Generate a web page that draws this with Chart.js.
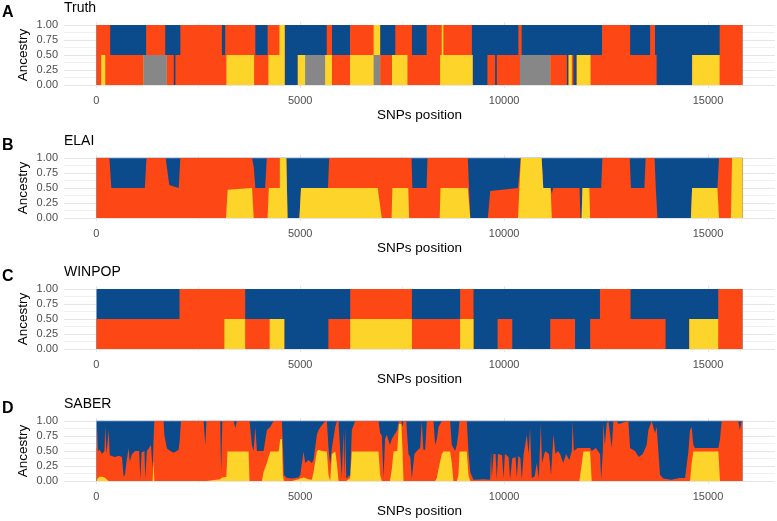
<!DOCTYPE html>
<html>
<head>
<meta charset="utf-8">
<title>Local ancestry along SNPs</title>
<script src="https://cdn.jsdelivr.net/npm/chart.js@4.4.1/dist/chart.umd.min.js"></script>
<style>
  html, body { margin: 0; padding: 0; background: #fff; }
  body { width: 777px; height: 521px; position: relative; overflow: hidden; }
  canvas { position: absolute; left: 0; }
</style>
</head>
<body>
<canvas id="panelA" width="777" height="125" style="top:0px"></canvas>
<canvas id="panelB" width="777" height="125" style="top:133px"></canvas>
<canvas id="panelC" width="777" height="125" style="top:264px"></canvas>
<canvas id="panelD" width="777" height="125" style="top:396px"></canvas>
<script>
// ancestry colours, stacked bottom -> top: grey, yellow, orange, blue
const GREY = '#878787';
const YELLOW = '#fdd42a';
const ORANGE = '#fd4714';
const BLUE = '#0b4a8b';

const xTicks = [0, 2500, 5000, 7500, 10000, 12500, 15000];
const yTicks = [0, 0.125, 0.25, 0.375, 0.5, 0.625, 0.75, 0.875, 1];

// A - Truth (step changes, value holds until next position)
const truthX = [0, 120, 220, 340, 1160, 1220, 1690, 1730, 1900, 1940,
  2060, 3080, 3160, 3190, 3870, 3900, 4200, 4220, 4490, 4620,
  4940, 5120, 5610, 5650, 5780, 6220, 6800, 6960, 7250, 7330,
  7630, 7740, 8100, 8430, 8470, 8510, 9210, 9230, 9590, 9780,
  9820, 10350, 10390, 10430, 11130, 11540, 11580, 11660, 11700, 11780,
  12120, 12400, 13090, 13580, 13700, 13740, 14610, 15285, 15850];
const truthGrey = [0, 0, 0, 0, .5, .5, .5, 0, 0, 0,
  0, 0, 0, 0, 0, 0, 0, 0, 0, 0,
  0, .5, 0, 0, 0, 0, .5, 0, 0, 0,
  0, 0, 0, 0, 0, 0, 0, 0, 0, 0,
  0, 0, .5, .5, 0, 0, 0, 0, 0, 0,
  0, 0, 0, 0, 0, 0, 0, 0, 0];
const truthYellow = [0, .5, 0, 0, 0, 0, 0, 0, 0, 0,
  0, 0, 0, .5, 0, 0, 0, .5, 1, 0,
  .5, 0, .5, .5, 0, .5, .5, 0, .5, .5,
  0, 0, 0, .5, 1, .5, .5, 0, 0, 0,
  0, 0, 0, 0, 0, 0, .5, 0, 0, .5,
  0, 0, 0, 0, 0, 0, .5, 0, 0];
const truthOrange = [1, .5, 1, .5, 0, .5, 0, .5, 0, .5,
  1, .5, 1, .5, 1, .5, 1, .5, 0, 0,
  0, 0, 0, .5, .5, .5, 0, .5, 0, .5,
  1, .5, 1, .5, 0, .5, 0, 0, .5, 0,
  .5, 1, .5, 0, .5, 0, 0, .5, 0, 0,
  .5, 1, .5, 1, .5, 0, 0, 1, 1];
const truthBlue = [0, 0, 0, .5, .5, 0, .5, .5, 1, .5,
  0, .5, 0, 0, 0, .5, 0, 0, 0, 1,
  .5, .5, .5, 0, .5, 0, 0, .5, .5, 0,
  0, .5, 0, 0, 0, 0, .5, 1, .5, 1,
  .5, 0, 0, .5, .5, 1, .5, .5, 1, .5,
  .5, 0, .5, 0, .5, 1, .5, 0, 0];

// B - ELAI
const elaiX = [0, 320, 370, 1190, 1230, 1700, 1790, 2020, 2060, 3180,
  3220, 3800, 3820, 3860, 3900, 4140, 4180, 4200, 4230, 4480,
  4500, 4660, 4690, 4980, 5020, 5680, 5710, 6900, 7000, 7240,
  7260, 7650, 7670, 7730, 7750, 8100, 8120, 8420, 8440, 9110,
  9170, 9600, 9660, 10340, 10410, 10920, 10960, 11140, 11170, 11200,
  11850, 11870, 11900, 11920, 12090, 12110, 12380, 12410, 13080, 13110,
  13440, 13470, 13690, 13720, 13760, 14580, 14610, 15230, 15270, 15560,
  15590, 15850];
const elaiYellow = [0, 0, 0, 0, 0, 0, 0, 0, 0, 0,
  .47, .5, .5, 0, 0, 0, 0, 0, .5, .5,
  1, 1, 0, 0, .5, .5, .5, .5, 0, 0,
  .5, .5, 0, 0, 0, 0, 0, 0, .5, .5,
  0, 0, 0, 0, 1, 1, .5, .5, 0, 0,
  0, 0, 0, .5, .5, 0, 0, 0, 0, 0,
  0, 0, 0, 0, 0, 0, .5, .5, 0, 0,
  1, 1];
const elaiOrange = [1, 1, .5, .5, 1, 1, .55, .5, 1, 1,
  .53, .5, .5, .85, .5, .5, 1, 1, .5, .5,
  0, 0, 0, 0, 0, 0, .5, .5, 1, 1,
  .5, .5, 1, 1, .5, .5, 1, 1, .5, .5,
  0, 0, .45, .5, 0, 0, 0, 0, .4, .5,
  .5, 0, 0, 0, 0, .5, .5, 1, 1, .5,
  .5, 1, 1, .5, 0, 0, 0, 0, 1, 1,
  0, 0];
const elaiBlue = [0, 0, .5, .5, 0, 0, .45, .5, 0, 0,
  0, 0, 0, .15, .5, .5, 0, 0, 0, 0,
  0, 0, 1, 1, .5, .5, 0, 0, 0, 0,
  0, 0, 0, 0, .5, .5, 0, 0, 0, 0,
  1, 1, .55, .5, 0, 0, .5, .5, .6, .5,
  .5, 1, 1, .5, .5, .5, .5, 0, 0, .5,
  .5, 0, 0, .5, 1, 1, .5, .5, 0, 0,
  0, 0];

// C - WINPOP (step changes)
const winX = [0, 2040, 3140, 3650, 4250, 4610, 5690, 6225, 7740, 8920,
  9250, 9840, 10200, 11130, 11740, 12110, 12350, 13100, 13960, 14540,
  15250, 15850];
const winYellow = [0, 0, .5, 0, .5, 0, 0, .5, 0, .5,
  0, 0, 0, 0, 0, 0, 0, 0, 0, .5,
  0, 0];
const winOrange = [.5, 1, .5, .5, 0, 0, .5, .5, .5, .5,
  0, .5, 0, .5, 0, .5, 1, .5, 0, 0,
  1, 1];
const winBlue = [.5, 0, 0, .5, .5, 1, .5, 0, .5, 0,
  1, .5, 1, .5, 1, .5, 0, .5, 1, .5,
  0, 0];

// D - SABER
const saberX = [0, 16, 40, 80, 140, 200, 221, 250, 302, 330,
  450, 560, 629, 670, 700, 740, 793, 820, 874, 956,
  1050, 1078, 1110, 1180, 1201, 1240, 1283, 1340, 1380, 1405,
  1422, 1650, 1667, 1732, 1814, 1900, 2018, 2043, 2075, 2631,
  2672, 2700, 3039, 3060, 3090, 3190, 3215, 3366, 3410, 3448,
  3734, 3758, 3816, 3856, 3900, 3938, 4060, 4101, 4183, 4265,
  4346, 4470, 4510, 4551, 4575, 4600, 4673, 4800, 4959, 5000,
  5082, 5123, 5200, 5286, 5327, 5408, 5449, 5531, 5613, 5654,
  5694, 5735, 5776, 5858, 5899, 5940, 5980, 6021, 6062, 6080,
  6103, 6130, 6225, 6266, 6348, 6920, 6960, 7002, 7043, 7080,
  7124, 7200, 7247, 7288, 7380, 7420, 7480, 7510, 7533, 7600,
  7655, 7700, 7737, 7800, 7860, 7940, 7982, 8020, 8064, 8104,
  8268, 8309, 8350, 8390, 8472, 8513, 8676, 8717, 8758, 8799,
  8840, 8880, 8905, 9085, 9126, 9170, 9248, 9500, 9656, 9680,
  9697, 9740, 9790, 9820, 9850, 9950, 9984, 10020, 10110, 10147,
  10200, 10280, 10310, 10350, 10400, 10433, 10480, 10556, 10600, 10637,
  10678, 10750, 10800, 10850, 10900, 10930, 11005, 11100, 11150, 11209,
  11260, 11320, 11372, 11450, 11520, 11600, 11658, 11680, 11710, 11800,
  11846, 11944, 12108, 12148, 12250, 12353, 12380, 12420, 12435, 12470,
  12516, 12557, 12639, 12680, 12761, 12802, 13047, 13088, 13210, 13300,
  13400, 13496, 13537, 13619, 13700, 13741, 13823, 13905, 14100, 14300,
  14436, 14520, 14558, 14599, 14640, 14681, 15253, 15294, 15335, 15743,
  15780, 15825, 15850];
const saberYellow = [0, .02, .05, .07, .07, .06, .05, .03, 0, 0,
  0, 0, 0, 0, 0, 0, 0, 0, 0, 0,
  0, 0, 0, 0, 0, 0, 0, 0, 0, .35,
  0, 0, 0, 0, 0, 0, 0, 0, 0, 0,
  0, 0, .03, .05, .06, .07, .49, .49, .49, .49,
  .49, 0, 0, 0, 0, 0, 0, .15, .3, .49,
  .49, .49, .7, .7, .1, 0, 0, 0, .03, .04,
  .06, .05, .03, .02, .15, .49, .52, .5, .49, .49,
  .1, 0, .45, .49, .3, 0, 0, 0, 0, 0,
  0, 0, .05, .49, .49, .49, .1, 0, 0, 0,
  0, 0, .2, .49, .5, .95, .95, .49, 0, 0,
  0, 0, 0, 0, 0, 0, 0, 0, 0, 0,
  0, 0, .05, .2, .45, .49, .49, .3, 0, 0,
  0, .1, .49, .49, .1, 0, 0, 0, 0, 0,
  0, 0, 0, 0, 0, 0, 0, 0, 0, 0,
  0, 0, 0, 0, 0, 0, 0, 0, 0, 0,
  0, 0, 0, 0, 0, 0, 0, 0, 0, 0,
  0, 0, 0, 0, 0, 0, 0, 0, 0, 0,
  0, .49, .49, 0, 0, 0, 0, 0, 0, 0,
  0, 0, 0, 0, 0, 0, 0, 0, 0, 0,
  0, 0, 0, 0, 0, 0, 0, 0, 0, 0,
  0, 0, 0, .3, .49, .49, .49, 0, 0, 0,
  0, 0, 0];
const saberOrange = [.55, .93, .45, .45, .38, .44, .87, .42, .85, .43,
  .4, .42, .4, .07, .1, .32, .55, .32, .45, .5,
  .5, .02, .48, .5, .05, .5, .54, .6, .2, .35,
  1, 1, .77, .54, .5, .47, .52, .66, 1, 1,
  .6, 1, .97, .1, .94, .93, .51, .51, .39, .51,
  .51, 1, .6, .5, .9, .5, .5, .35, .55, .41,
  .51, .51, .3, .3, .5, .1, .05, .04, .03, .06,
  .43, .25, .32, .28, .2, .28, .33, .43, .51, .51,
  .45, .27, .1, .41, .7, 1, .5, .05, .85, .05,
  .9, .04, .05, .36, .51, .51, .7, .75, .05, .7,
  .77, .6, .5, .26, .35, .05, .05, .41, 1, 1,
  .45, .4, .04, .45, .5, .55, 1, .52, .52, 1,
  1, .6, .65, .7, .55, .51, .51, .3, .55, .5,
  .6, .7, .51, .51, .4, .15, .02, .03, .02, .5,
  .05, .45, .45, .03, .45, .43, .05, .45, .4, .03,
  .38, .4, .05, .42, .38, .03, .45, .77, .45, .88,
  .05, .08, .3, .05, .96, .3, .5, .45, .1, .77,
  .45, .5, .45, .3, .45, .35, .5, 1, .5, .55,
  .55, .06, .06, .5, .55, .45, .03, .5, .96, .6,
  .96, 1, .55, 1, 1, .95, 1, .55, .5, .4,
  .45, .6, .85, 1, .8, .9, .1, .04, .02, .05,
  .05, .5, .85, .6, .11, .06, .06, .7, 1, 1,
  .85, 1, 1];
const saberBlue = [.45, .05, .5, .48, .55, .5, .08, .55, .15, .57,
  .6, .58, .6, .93, .9, .68, .45, .68, .55, .5,
  .5, .98, .52, .5, .95, .5, .46, .4, .8, .3,
  0, 0, .23, .46, .5, .53, .48, .34, 0, 0,
  .4, 0, 0, .85, 0, 0, 0, 0, .12, 0,
  0, 0, .4, .5, .1, .5, .5, .5, .15, .1,
  0, 0, 0, 0, .4, .9, .95, .96, .94, .9,
  .51, .7, .65, .7, .65, .23, .15, .07, 0, 0,
  .45, .73, .45, .1, 0, 0, .5, .95, .15, .95,
  .1, .96, .9, .15, 0, 0, .2, .25, .95, .3,
  .23, .4, .3, .25, .15, 0, 0, .1, 0, 0,
  .55, .6, .96, .55, .5, .45, 0, .48, .48, 0,
  0, .4, .3, .1, 0, 0, 0, .4, .45, .5,
  .4, .2, 0, 0, .5, .85, .98, .97, .98, .5,
  .95, .55, .55, .97, .55, .57, .95, .55, .6, .97,
  .62, .6, .95, .58, .62, .97, .55, .23, .55, .12,
  .95, .92, .7, .95, .04, .7, .5, .55, .9, .23,
  .55, .5, .55, .7, .55, .65, .5, 0, .5, .45,
  .45, .45, .45, .5, .45, .55, .97, .5, .04, .4,
  .04, 0, .45, 0, 0, .05, 0, .45, .5, .6,
  .55, .4, .15, 0, .2, .1, .9, .96, .98, .95,
  .95, .5, .15, .1, .4, .45, .45, .3, 0, 0,
  .15, 0, 0];

const FONT = '"Liberation Sans", Arial, Helvetica, sans-serif';
Chart.defaults.font.family = FONT;

// panel letter (A, B, C, D) in the top left corner
const panelLetter = {
  id: 'panelLetter',
  afterDraw(chart, args, opts) {
    const ctx = chart.ctx;
    ctx.save();
    ctx.font = 'bold 16px ' + FONT;
    ctx.fillStyle = '#000';
    ctx.textBaseline = 'middle';
    ctx.fillText(opts.text, 2, 13);
    ctx.restore();
  }
};

const isMajorY = v => Math.round(v * 8) % 2 === 0;

function drawPanel(id, letter, title, xs, series, stepped, topLine) {
  // series go bottom -> top; with fill to origin the top one is painted first
  const datasets = series.map(([values, color]) => ({
    data: values.map((v, j) => ({ x: xs[j], y: v })),
    backgroundColor: color,
    borderColor: color,
    borderWidth: 0,
    pointRadius: 0,
    fill: 'origin',
    stepped: stepped,
    tension: 0
  }));
  if (topLine) {
    const top = datasets[datasets.length - 1];
    top.borderWidth = 1;
    top.borderColor = 'rgba(110,150,200,0.8)';
  }

  return new Chart(document.getElementById(id), {
    type: 'line',
    data: { datasets },
    plugins: [panelLetter],
    options: {
      responsive: false,
      animation: false,
      events: [],
      layout: { padding: { left: 0, right: 2, top: 0, bottom: 0 } },
      plugins: {
        legend: { display: false },
        tooltip: { enabled: false },
        panelLetter: { text: letter },
        title: {
          display: true,
          text: title,
          align: 'start',
          fullSize: false,
          color: '#000',
          font: { size: 14, weight: 'normal' },
          padding: { top: 0, bottom: 5.2 }
        }
      },
      scales: {
        x: {
          type: 'linear',
          min: -792.5,
          max: 16642.5,
          afterBuildTicks: s => { s.ticks = xTicks.map(v => ({ value: v })); },
          afterFit: s => { s.height = 37; },
          ticks: {
            autoSkip: false,
            maxRotation: 0,
            padding: 6,
            color: '#4d4d4d',
            font: { size: 11 },
            callback: v => (v % 5000 === 0 ? String(v) : '')
          },
          grid: {
            drawTicks: false,
            color: c => (c.tick && c.tick.value % 5000 === 0 ? '#e5e5e5' : '#f0f0f0'),
            lineWidth: 1
          },
          border: { display: false },
          title: {
            display: true,
            text: 'SNPs position',
            color: '#000',
            font: { size: 13.5 },
            padding: { top: 0, bottom: 2 }
          }
        },
        y: {
          stacked: true,
          min: -0.05,
          max: 1.05,
          afterBuildTicks: s => { s.ticks = yTicks.map(v => ({ value: v })); },
          afterFit: s => { s.width = 64; },
          ticks: {
            autoSkip: false,
            padding: 6,
            color: '#4d4d4d',
            font: { size: 11 },
            callback: v => (isMajorY(v) ? v.toFixed(2) : '')
          },
          grid: {
            drawTicks: false,
            color: c => (c.tick && isMajorY(c.tick.value) ? '#e5e5e5' : '#f0f0f0'),
            lineWidth: 1
          },
          border: { display: false },
          title: {
            display: true,
            text: 'Ancestry',
            color: '#000',
            font: { size: 13.5 },
            padding: { top: 15, bottom: 0 }
          }
        }
      }
    }
  });
}

drawPanel('panelA', 'A', 'Truth', truthX,
  [[truthGrey, GREY], [truthYellow, YELLOW], [truthOrange, ORANGE], [truthBlue, BLUE]], true, false);
drawPanel('panelB', 'B', 'ELAI', elaiX,
  [[elaiYellow, YELLOW], [elaiOrange, ORANGE], [elaiBlue, BLUE]], false, true);
drawPanel('panelC', 'C', 'WINPOP', winX,
  [[winYellow, YELLOW], [winOrange, ORANGE], [winBlue, BLUE]], true, false);
drawPanel('panelD', 'D', 'SABER', saberX,
  [[saberYellow, YELLOW], [saberOrange, ORANGE], [saberBlue, BLUE]], false, true);
</script>
</body>
</html>
